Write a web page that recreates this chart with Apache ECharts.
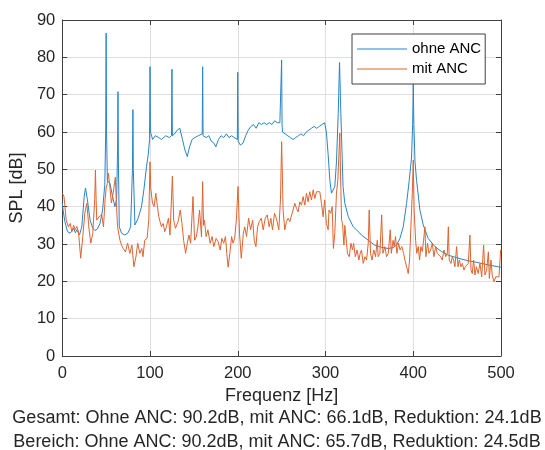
<!DOCTYPE html>
<html>
<head>
<meta charset="utf-8">
<script src="https://cdn.jsdelivr.net/npm/echarts@6/dist/echarts.min.js"></script>
<style>
    html, body { margin: 0; padding: 0; background: #fff; }
    #spl { width: 545px; height: 450px; }
</style>
</head>
<body>
<div id="spl"></div>
<script>
// Frequenz [Hz], SPL [dB] - ohne ANC
var ohneANC = [[0,41],[1,39],[3,36],[6,33.3],[9,32.9],[11,33.5],[13,34.2],[15,33],[16.6,33.8],[19.6,32.4],[22.3,34.6],
    [25,42.7],[26.5,45],[28.7,41.8],[31.7,36.4],[34.8,34.2],[37.4,33.6],[40,34],[43,35.5],[46,39.1],[48.5,46],
    [49.5,60],[50,86.5],[50.5,60],[51.4,47],[54.4,46.2],[57.4,42.7],[60,40],[62,42],[63,55],[63.5,70.8],[64,52],
    [65,34.6],[67.6,32.9],[71.4,32.4],[75,33],[77.9,34.6],[80,50],[80.5,66],[81,50],[82.8,35.1],[86.5,36.9],
    [90.3,40],[93,44.5],[96,50.7],[98,54],[99.5,58],[100,77.5],[100.5,60],[103,58],[106,59],[110,58.5],[113,58],
    [115,58],[118,59],[122,58.5],[124.5,59],[125,76.8],[125.5,59],[128,59.5],[131,60.5],[134,61],[137,58],[140,55],
    [142.5,53.4],[145,56],[148,58],[151,58.5],[155,59],[159.5,59.5],[160,77.5],[160.5,59],[164,58.5],[167,59],
    [170,57.5],[173,57],[175,56],[178,58],[181,59],[184,58.5],[187,59.5],[190,58.5],[193,59],[196,58.5],[199.5,58],
    [200,76],[200.5,57.5],[203,56.5],[206,57],[209,59],[212,60.5],[215,61.5],[218,62],[221,61],[224,62.5],[227,62],
    [230,62.5],[233,62],[236,62.5],[239,62],[242,63],[245,62.5],[248,62.5],[249.5,63],[250,79.3],[250.5,62],
    [251,60],[254,59.5],[257,59],[260,58.5],[263,58],[266,58.5],[269,59],[272,59.5],[275,59],[278,60],[281,60.5],
    [284,61],[287,61.5],[290,61],[293,61.5],[296,62],[299,62.5],[301,60],[303,54],[305,47],[306.8,43.6],
    [308.7,43.2],[310.6,45.4],[312.5,52],[314.5,65],[316,78.6],[317.5,65],[320,45.4],[322,40.9],[326,37.3],
    [331.6,34.6],[333.5,34.6],[335.4,33.8],[341,32.4],[348.7,31],[356,29.7],[364,29.1],[371.5,28.8],[377,29],
    [381,29.7],[384.8,31.5],[388.6,34.6],[392.4,40.9],[395.4,47],[398,53],[399.3,62],[400,72.9],[400.7,62],
    [402,52],[403.8,47],[407.6,39.1],[411.4,35.1],[417,31.5],[424.7,29.3],[432,28],[440,27],[451,26.2],
    [462.7,25.5],[474,25],[485.6,24.4],[497,23.9],[500,23.8]];

// Frequenz [Hz], SPL [dB] - mit ANC
var mitANC = [[0,43.6],[1,43.6],[2,42.7],[4.5,36.4],[7,34.6],[9,35.5],[11,33.3],[13,35],[14.7,33.8],[16.6,34.7],
    [18.5,33.3],[21,26.2],[23.4,32],[25.7,38.2],[28,40.9],[30.6,33.8],[32.5,30.2],[34.8,32.9],[37,42],[37.8,49.8],
    [38.6,42],[39.3,36.4],[42,37.3],[45,37.8],[47,34.6],[48.8,41.8],[50,45],[51.4,46.2],[52.5,49],[53.7,46.7],
    [56,41],[58,43.6],[60.5,47.9],[61.5,42],[63,34.6],[65.8,31],[67.6,29.7],[69.5,28.8],[72,27.9],[74.5,30.2],
    [77,27.5],[79.4,29.7],[81.6,23.9],[84,26.6],[86,30.2],[88.4,27.5],[90.7,28.8],[92,26.6],[94,31],[96.7,31.5],
    [98.6,36.4],[100,52],[100.8,45],[102.8,41],[104.7,40],[106.6,43.6],[108.5,40],[110,37.3],[113,34.6],
    [115,35.5],[116.8,33.3],[118.7,34.6],[121,36.9],[122.8,32.4],[125.5,48.2],[127,36.4],[129,34.2],[132,36],
    [134.5,39.1],[136.4,35.5],[138.3,31],[140.6,27.5],[142.5,30.2],[144.4,32.4],[146.3,30.2],[149,42.7],
    [150.8,31],[152.7,31.9],[154.6,34.6],[156.5,39.1],[158.7,31.9],[160,46.7],[161,35],[162,36.4],[164,32],
    [166,33.8],[168.5,30.2],[170.8,32],[172.7,29.3],[175.4,31.5],[177.6,30.6],[180,28.4],[181.8,31.5],
    [184,30.2],[186,32],[187.5,27.5],[189,23.8],[191,27.5],[193,32],[194.6,30.2],[196.5,31.5],[198.4,36.4],
    [200.3,45.4],[202,32.9],[204,26.2],[206.4,32.9],[208,34.6],[210,32],[212.4,36.9],[214.7,33.8],[217,36.4],
    [218.8,31],[220.7,29.3],[222.6,34.6],[224.5,36],[226.8,36.9],[229,33.8],[231.3,36.9],[233.6,37.8],
    [235.8,34.6],[237.7,36.9],[239.6,33.8],[241.9,38.2],[244,36.9],[246.8,33.8],[248.7,42],[250,57.4],
    [251.7,39],[253.6,33.8],[255.5,36],[257.4,36.9],[259.3,36],[261.2,36.4],[263,39.1],[265,40.9],[267,39.5],
    [268.8,38.6],[270.7,41.3],[272.6,40.4],[274.5,42.7],[276.4,40.4],[278.3,43.6],[280.2,41.3],[282,44],
    [284,41.8],[286,44.5],[287.8,42.2],[289.7,44],[291.6,43.6],[293.5,44],[295.4,40.9],[297.3,37.3],[299,41.8],
    [301,35.5],[303,33.8],[304,39.1],[306,38.2],[307.6,40],[309,28.8],[310.6,32.9],[312.5,43.6],[314,47],
    [315.5,55],[316.3,59.7],[317.2,48],[318.3,36.4],[319.4,35.5],[321,29.7],[322,35],[324,30.2],[325,27.5],
    [327,26.6],[329,30.2],[330.8,28.4],[332,30.2],[334,26.6],[336,28.4],[338,25.7],[339.5,27.5],[341,28.4],
    [343,24.8],[345,26.6],[346.8,25.7],[348.7,30.2],[349.8,39.1],[351.3,27.5],[353,25.7],[355,28.4],[357,26.6],
    [359,31],[360,26.6],[362,27.5],[364,37.8],[365.4,27.5],[367.7,29.3],[369.6,26.6],[371.5,27.5],[373.8,33.8],
    [375,27.5],[377,31],[378.3,29.3],[379.8,32],[381.4,27.5],[383.3,30.2],[385,28.4],[387,29.3],[389,27.5],
    [390.5,25.7],[392.4,23.9],[394.3,22.1],[395.8,25.7],[397.3,34.6],[398.9,43.6],[400,52.5],[401,39.1],
    [402.7,31],[404,27.5],[405.7,29.3],[407.2,25.7],[408.7,29.3],[410.3,28],[411.8,31],[413.3,34.6],[414.4,26.6],
    [416.3,30.2],[417.9,27.5],[419.8,28.4],[421.7,30.2],[423.6,26.6],[425.5,29.3],[427.4,27.5],[429.3,28],
    [431.2,26.6],[433,25.7],[435,28.4],[437,26.6],[438.8,27.5],[440,34.6],[441,25.7],[443,24.8],[444.5,26.6],
    [446,25.7],[447.5,23.9],[449.4,29.3],[451,23.9],[452.5,25.7],[454.4,23.9],[456,24.8],[457.8,23],[459.3,23.9],
    [461,23.4],[462.7,24.8],[464.6,32.4],[465.8,23],[467.3,22.1],[468.8,25.7],[470.3,21.7],[472,23.9],[474,22.1],
    [476,24.8],[478,21.2],[480.2,29.7],[481.7,21.7],[483.7,23],[485.6,27.9],[486.7,20.8],[488.6,25.7],[490,21.7],
    [492,19.9],[494,21.2],[495.8,20.8],[497.7,21.2],[499.6,28.4],[500,28]];

var seriesNames = ['ohne ANC', 'mit ANC'];
var infoLines = [
    'Gesamt: Ohne ANC: 90.2dB, mit ANC: 66.1dB, Reduktion: 24.1dB',
    'Bereich: Ohne ANC: 90.2dB, mit ANC: 65.7dB, Reduktion: 24.5dB'
];

var font = '"Liberation Sans", Arial, Helvetica, sans-serif';
var axisColor = '#404040';
var textColor = '#262626';
var blue = '#2a84c6';
var orange = '#de6430';

function frameAxis(pos) {
    var isX = pos === 'top';
    return {
        type: 'value',
        position: pos,
        min: 0,
        max: isX ? 500 : 90,
        interval: isX ? 100 : 10,
        axisLine: { show: true, onZero: false, lineStyle: { color: axisColor, width: 1 } },
        axisTick: { show: true, inside: true, length: 5, lineStyle: { color: axisColor } },
        axisLabel: { show: false },
        splitLine: { show: false }
    };
}

var option = {
    animation: false,
    backgroundColor: '#fff',
    grid: { left: 60, top: 20, right: 44, bottom: 94 },
    legend: {
        data: seriesNames,
        orient: 'vertical',
        left: 352,
        top: 34,
        padding: [7, 4, 7, 5],
        icon: 'rect',
        itemWidth: 50,
        itemHeight: 1,
        itemGap: 4,
        backgroundColor: '#fff',
        borderColor: axisColor,
        borderWidth: 1,
        textStyle: { fontFamily: font, fontSize: 15, color: '#000', height: 16, lineHeight: 16 }
    },
    xAxis: [{
        type: 'value',
        min: 0,
        max: 500,
        interval: 100,
        name: 'Frequenz [Hz]',
        nameLocation: 'middle',
        nameGap: 28,
        nameTextStyle: { fontFamily: font, fontSize: 18, color: textColor },
        axisLine: { show: true, onZero: false, lineStyle: { color: axisColor, width: 1 } },
        axisTick: { show: true, inside: true, length: 5, lineStyle: { color: axisColor } },
        axisLabel: { fontFamily: font, fontSize: 16.5, color: textColor, margin: 9 },
        splitLine: { show: true, lineStyle: { color: '#dfdfdf', width: 1 } }
    }, frameAxis('top')],
    yAxis: [{
        type: 'value',
        min: 0,
        max: 90,
        interval: 10,
        name: 'SPL [dB]',
        nameLocation: 'middle',
        nameGap: 32,
        nameTextStyle: { fontFamily: font, fontSize: 18, color: textColor },
        axisLine: { show: true, onZero: false, lineStyle: { color: axisColor, width: 1 } },
        axisTick: { show: true, inside: true, length: 5, lineStyle: { color: axisColor } },
        axisLabel: { fontFamily: font, fontSize: 16.5, color: textColor, margin: 7 },
        splitLine: { show: true, lineStyle: { color: '#dfdfdf', width: 1 } }
    }, frameAxis('right')],
    series: [{
        name: seriesNames[0],
        type: 'line',
        data: ohneANC,
        symbol: 'none',
        itemStyle: { color: blue },
        lineStyle: { color: blue, width: 1 }
    }, {
        name: seriesNames[1],
        type: 'line',
        data: mitANC,
        symbol: 'none',
        itemStyle: { color: orange },
        lineStyle: { color: orange, width: 1 }
    }],
    graphic: [{
        type: 'text',
        x: 277,
        y: 418,
        style: { text: infoLines[0], align: 'center', verticalAlign: 'middle', fontFamily: font, fontSize: 18, fill: textColor }
    }, {
        type: 'text',
        x: 277,
        y: 442,
        style: { text: infoLines[1], align: 'center', verticalAlign: 'middle', fontFamily: font, fontSize: 18, fill: textColor }
    }]
};

var myChart = echarts.init(document.getElementById('spl'));
myChart.setOption(option);
</script>
</body>
</html>
